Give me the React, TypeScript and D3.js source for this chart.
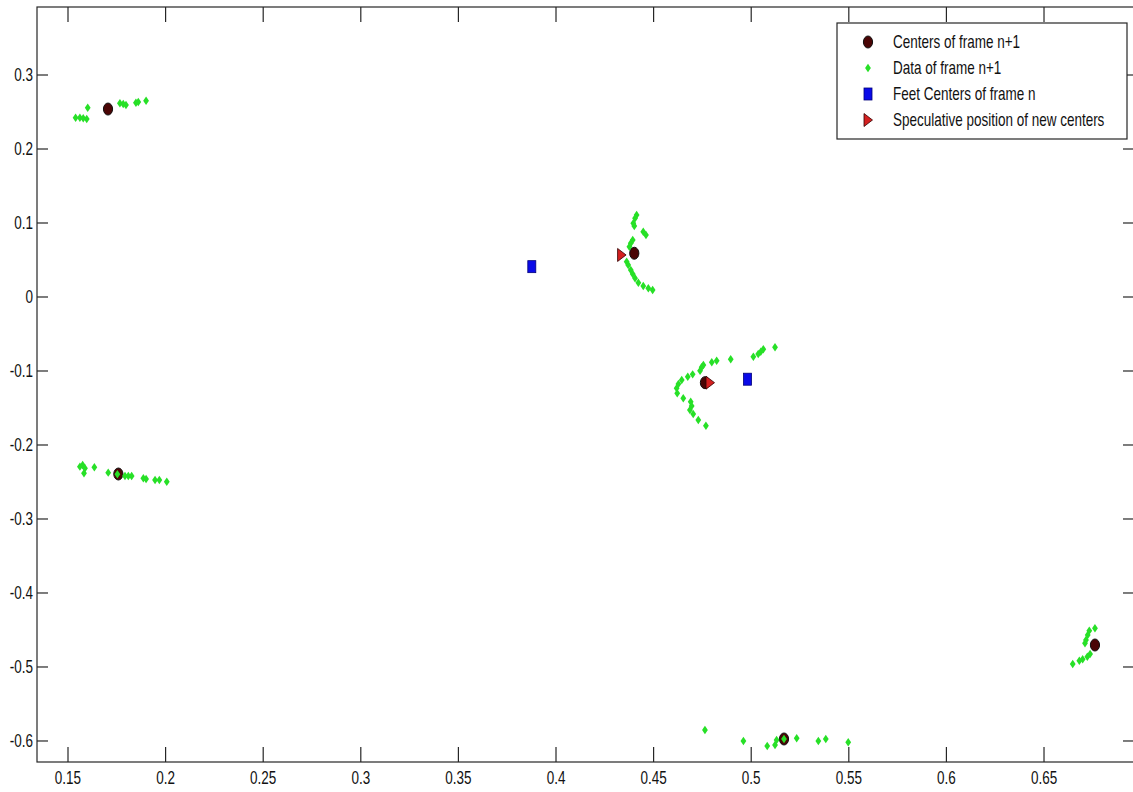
import React from "react";
import * as d3 from "d3";

// Cluster centres found in frame n+1
const centersX = [0.1705, 0.4401, 0.4763, 0.1758, 0.5168, 0.6761];
const centersY = [0.254, 0.0591, -0.1158, -0.2392, -0.5973, -0.4703];

// Raw foot samples of frame n+1
const dataX = [
  0.1539, 0.1561, 0.1578, 0.1596, 0.1601, 0.1766, 0.1783, 0.1797, 0.1848, 0.186, 0.19,
  0.4413, 0.4405, 0.4396, 0.4401, 0.4447, 0.4461, 0.4393, 0.4383, 0.4376, 0.4362, 0.437,
  0.4383, 0.4393, 0.4405, 0.4422, 0.4447, 0.4473, 0.4495,
  0.5122, 0.5062, 0.5049, 0.5036, 0.5011, 0.4895, 0.4823, 0.4798, 0.4755, 0.4746, 0.4738,
  0.47, 0.4675, 0.4644, 0.4627, 0.4618, 0.4621, 0.4652, 0.469, 0.4695, 0.4686, 0.4703,
  0.4729, 0.4768,
  0.1561, 0.1575, 0.1582, 0.1587, 0.1635, 0.1706, 0.1753, 0.1792, 0.1809, 0.1826, 0.1886,
  0.19, 0.1946, 0.1968, 0.2006,
  0.4763, 0.496, 0.5082, 0.5122, 0.513, 0.5168, 0.5233, 0.5344, 0.5382, 0.5497,
  0.6761, 0.6732, 0.6724, 0.6715, 0.671, 0.6736, 0.6722, 0.6698, 0.6681, 0.6647,
];
const dataY = [
  0.2423, 0.2423, 0.2415, 0.2405, 0.2558, 0.2618, 0.2608, 0.2595, 0.2626, 0.2635, 0.2653,
  0.1108, 0.1064, 0.0996, 0.0959, 0.0882, 0.0838, 0.077, 0.0726, 0.068, 0.0477, 0.0432,
  0.0365, 0.0311, 0.0253, 0.0193, 0.0149, 0.0118, 0.0095,
  -0.068, -0.0707, -0.0739, -0.077, -0.0807, -0.0842, -0.0861, -0.0882, -0.0919, -0.095,
  -0.0996, -0.1045, -0.1077, -0.1122, -0.1176, -0.1234, -0.1301, -0.1369, -0.1415, -0.1473,
  -0.1527, -0.1581, -0.1662, -0.1739,
  -0.2293, -0.227, -0.2382, -0.2315, -0.2301, -0.2374, -0.2396, -0.2419, -0.2419, -0.2419,
  -0.245, -0.2459, -0.2473, -0.2473, -0.2496,
  -0.5851, -0.6, -0.6068, -0.6054, -0.5986, -0.5973, -0.5964, -0.6, -0.5973, -0.6018,
  -0.4477, -0.4509, -0.4568, -0.4635, -0.468, -0.4824, -0.4861, -0.4896, -0.4915, -0.4959,
];

// Foot centres tracked in frame n
const feetX = [0.3876, 0.4981];
const feetY = [0.041, -0.1111];

// Predicted positions of the new centres
const specX = [0.4336, 0.4789];
const specY = [0.0568, -0.1158];

const xTicks = [0.15, 0.2, 0.25, 0.3, 0.35, 0.4, 0.45, 0.5, 0.55, 0.6, 0.65];
const xTickLabels = ["0.15", "0.2", "0.25", "0.3", "0.35", "0.4", "0.45", "0.5", "0.55", "0.6", "0.65"];
const yTicks = [0.3, 0.2, 0.1, 0, -0.1, -0.2, -0.3, -0.4, -0.5, -0.6];
const yTickLabels = ["0.3", "0.2", "0.1", "0", "-0.1", "-0.2", "-0.3", "-0.4", "-0.5", "-0.6"];

const legendLabels = [
  "Centers of frame n+1",
  "Data of frame n+1",
  "Feet Centers of frame n",
  "Speculative position of new centers",
];

const W = 1133;
const H = 792;
const plot = { left: 37, right: 1134, top: 7, bottom: 762 };

const FONT = "'Liberation Sans', Arial, sans-serif";
const SX = 0.75; // horizontal squeeze of the text glyphs
const AXIS = "#262626";
const GREEN = "#27e027";

function Center({ x, y }: { x: number; y: number }) {
  return <ellipse cx={x} cy={y} rx={4.6} ry={6} fill="#4a0505" stroke="#111" strokeWidth={1} />;
}
function Diamond({ x, y }: { x: number; y: number }) {
  return <path d={`M${x},${y - 4.2}L${x + 2.9},${y}L${x},${y + 4.2}L${x - 2.9},${y}Z`} fill={GREEN} />;
}
function Square({ x, y }: { x: number; y: number }) {
  return <rect x={x - 4} y={y - 6} width={8} height={12} fill="#0a0ae8" stroke="#00007a" strokeWidth={0.8} />;
}
function Triangle({ x, y }: { x: number; y: number }) {
  return (
    <path d={`M${x - 4},${y - 6.5}L${x + 4.5},${y}L${x - 4},${y + 6.5}Z`} fill="#d42020" stroke="#300" strokeWidth={0.8} />
  );
}

function Label({ x, y, anchor, children }: { x: number; y: number; anchor: string; children: string }) {
  return (
    <text
      transform={`translate(${x},${y}) scale(${SX},1)`}
      textAnchor={anchor}
      dominantBaseline="central"
      fontFamily={FONT}
      fontSize={18}
      fill="#111"
    >
      {children}
    </text>
  );
}

export default function App() {
  const x = d3.scaleLinear().domain([0.13412, 0.6961]).range([plot.left, plot.right]);
  const y = d3.scaleLinear().domain([0.3919, -0.6284]).range([plot.top, plot.bottom]);

  const xTickLen = 15;
  const yTickLen = 11;

  const legend = { x: 837, y: 23, w: 290, rowH: 26, pad: 19 };
  const legendH = legend.pad * 2 + legend.rowH * (legendLabels.length - 1);
  const markerX = legend.x + 31;
  const textX = legend.x + 56;

  return (
    <svg
      width={W}
      height={H}
      style={{ position: "absolute", left: 0, top: 0, background: "#fff" }}
      xmlns="http://www.w3.org/2000/svg"
    >
      <rect x={0} y={0} width={W} height={H} fill="#fff" />

      {/* ticks on all four sides, pointing inward */}
      <g stroke={AXIS} strokeWidth={1.2}>
        {xTicks.map((t) => (
          <g key={`xt${t}`}>
            <line x1={x(t)} x2={x(t)} y1={plot.bottom} y2={plot.bottom - xTickLen} />
            <line x1={x(t)} x2={x(t)} y1={plot.top} y2={plot.top + xTickLen} />
          </g>
        ))}
        {yTicks.map((t) => (
          <g key={`yt${t}`}>
            <line x1={plot.left} x2={plot.left + yTickLen} y1={y(t)} y2={y(t)} />
            <line x1={plot.right} x2={plot.right - yTickLen} y1={y(t)} y2={y(t)} />
          </g>
        ))}
        <rect
          x={plot.left}
          y={plot.top}
          width={plot.right - plot.left}
          height={plot.bottom - plot.top}
          fill="none"
        />
      </g>

      {xTicks.map((t, i) => (
        <Label key={`xl${t}`} x={x(t)} y={plot.bottom + 16} anchor="middle">
          {xTickLabels[i]}
        </Label>
      ))}
      {yTicks.map((t, i) => (
        <Label key={`yl${t}`} x={plot.left - 4} y={y(t)} anchor="end">
          {yTickLabels[i]}
        </Label>
      ))}

      {/* marks */}
      <g>
        {centersX.map((v, i) => (
          <Center key={`c${i}`} x={x(v)} y={y(centersY[i])} />
        ))}
        {dataX.map((v, i) => (
          <Diamond key={`d${i}`} x={x(v)} y={y(dataY[i])} />
        ))}
        {feetX.map((v, i) => (
          <Square key={`f${i}`} x={x(v)} y={y(feetY[i])} />
        ))}
        {specX.map((v, i) => (
          <Triangle key={`s${i}`} x={x(v)} y={y(specY[i])} />
        ))}
      </g>

      {/* legend */}
      <g>
        <rect x={legend.x} y={legend.y} width={legend.w} height={legendH} fill="#fff" stroke={AXIS} strokeWidth={1.2} />
        {legendLabels.map((lab, i) => {
          const cy = legend.y + legend.pad + i * legend.rowH;
          return (
            <g key={lab}>
              {i === 0 && <Center x={markerX} y={cy} />}
              {i === 1 && <Diamond x={markerX} y={cy} />}
              {i === 2 && <Square x={markerX} y={cy} />}
              {i === 3 && <Triangle x={markerX} y={cy} />}
              <Label x={textX} y={cy} anchor="start">
                {lab}
              </Label>
            </g>
          );
        })}
      </g>
    </svg>
  );
}
